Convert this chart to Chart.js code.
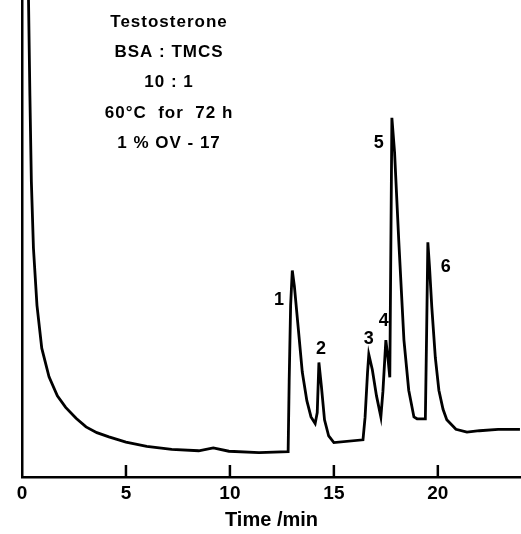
<!DOCTYPE html>
<html>
<head>
<meta charset="utf-8">
<script src="https://cdn.jsdelivr.net/npm/chart.js@4/dist/chart.umd.min.js"></script>
<style>
  html, body { margin: 0; padding: 0; background: #fff; }
  #wrap { width: 521px; height: 534px; }
</style>
</head>
<body>
<div id="wrap"><canvas id="gc"></canvas></div>
<script>
// retention time (min) and detector signal (arbitrary units, 0-100)
const times = [0.3, 0.38, 0.45, 0.55, 0.72, 0.95, 1.3, 1.7, 2.1, 2.6, 3.08, 3.6, 4.18, 5.0, 6.0, 7.2, 8.5, 9.2, 9.95, 11.4, 12.8,
  12.85, 12.92, 13.0, 13.1, 13.28, 13.48, 13.7, 13.9, 14.1, 14.2, 14.28, 14.4, 14.55, 14.75, 15.0, 16.4,
  16.5, 16.62, 16.68, 16.85, 17.05, 17.26, 17.36, 17.5, 17.6, 17.69, 17.79, 17.92, 18.12, 18.37, 18.6, 18.85, 19.0,
  19.4, 19.46, 19.52, 19.6, 19.71, 19.88, 20.05, 20.25, 20.43, 20.87, 21.4, 22.0, 22.9, 23.95];
const signal = [104, 80, 62, 48, 36, 27, 21, 17, 14.6, 12.3, 10.5, 9.3, 8.4, 7.3, 6.4, 5.8, 5.5, 6.1, 5.4, 5.1, 5.3,
  20, 36, 43.3, 40, 31.5, 22, 16, 12.6, 11.2, 13.5, 24, 19, 12, 8.6, 7.2, 7.8,
  12.5, 22, 25.7, 22.5, 17, 12.6, 18, 28.7, 25, 20.9, 75.3, 68, 49.6, 28.7, 18.2, 12.6, 12.2,
  12.2, 30, 49.2, 44, 35.6, 25, 18.2, 14.2, 12, 10, 9.4, 9.7, 10, 10];

const xTicks = [0, 5, 10, 15, 20];

const peakNames = ['1', '2', '3', '4', '5', '6'];
const peakLabelT = [12.36, 14.38, 16.68, 17.4, 17.16, 20.38];
const peakLabelV = [37.2, 26.8, 28.9, 32.6, 70.1, 44.1];

const noteLines = ['Testosterone', 'BSA : TMCS', '10 : 1', '60°C  for  72 h', '1 % OV - 17'];

const FONT = '"Liberation Sans", Arial, sans-serif';

const extras = {
  id: 'extras',
  afterDraw(chart) {
    const c = chart.ctx;
    const xs = chart.scales.x, ys = chart.scales.y;
    const area = chart.chartArea;
    c.save();
    // tick marks point up into the plot
    c.strokeStyle = '#000';
    c.lineWidth = 2.5;
    xTicks.forEach(t => {
      if (t === 0) return;
      const px = xs.getPixelForValue(t);
      c.beginPath();
      c.moveTo(px, area.bottom);
      c.lineTo(px, area.bottom - 12);
      c.stroke();
    });
    // peak numbers
    c.fillStyle = '#000';
    c.textAlign = 'center';
    c.textBaseline = 'middle';
    c.font = 'bold 18px ' + FONT;
    peakNames.forEach((n, i) => {
      c.fillText(n, xs.getPixelForValue(peakLabelT[i]), ys.getPixelForValue(peakLabelV[i]));
    });
    // conditions note
    c.font = 'bold 17px ' + FONT;
    c.letterSpacing = '1px';
    noteLines.forEach((s, i) => {
      c.fillText(s, 169, 22 + i * 30.4);
    });
    c.restore();
  }
};

new Chart(document.getElementById('gc'), {
  type: 'line',
  data: {
    datasets: [{
      data: times.map((t, i) => ({ x: t, y: signal[i] })),
      borderColor: '#000',
      borderWidth: 2.8,
      pointRadius: 0,
      tension: 0,
      fill: false
    }]
  },
  options: {
    responsive: true,
    maintainAspectRatio: false,
    animation: false,
    layout: { padding: 0 },
    plugins: { legend: { display: false }, tooltip: { enabled: false } },
    scales: {
      x: {
        type: 'linear',
        min: 0,
        max: 24,
        afterBuildTicks: s => { s.ticks = xTicks.map(v => ({ value: v })); },
        afterFit: s => { s.height = 57; },
        grid: { display: false },
        border: { display: true, color: '#000', width: 2.5 },
        ticks: {
          color: '#000',
          padding: -3,
          font: { family: FONT, size: 19, weight: 'bold' },
          maxRotation: 0
        },
        title: {
          display: true,
          text: 'Time /min',
          color: '#000',
          padding: { top: 2, bottom: 2 },
          font: { family: FONT, size: 20, weight: 'bold' }
        }
      },
      y: {
        min: 0,
        max: 100,
        afterFit: s => { s.width = 22; },
        grid: { display: false },
        border: { display: true, color: '#000', width: 2.5 },
        ticks: { display: false }
      }
    }
  },
  plugins: [extras]
});
</script>
</body>
</html>
